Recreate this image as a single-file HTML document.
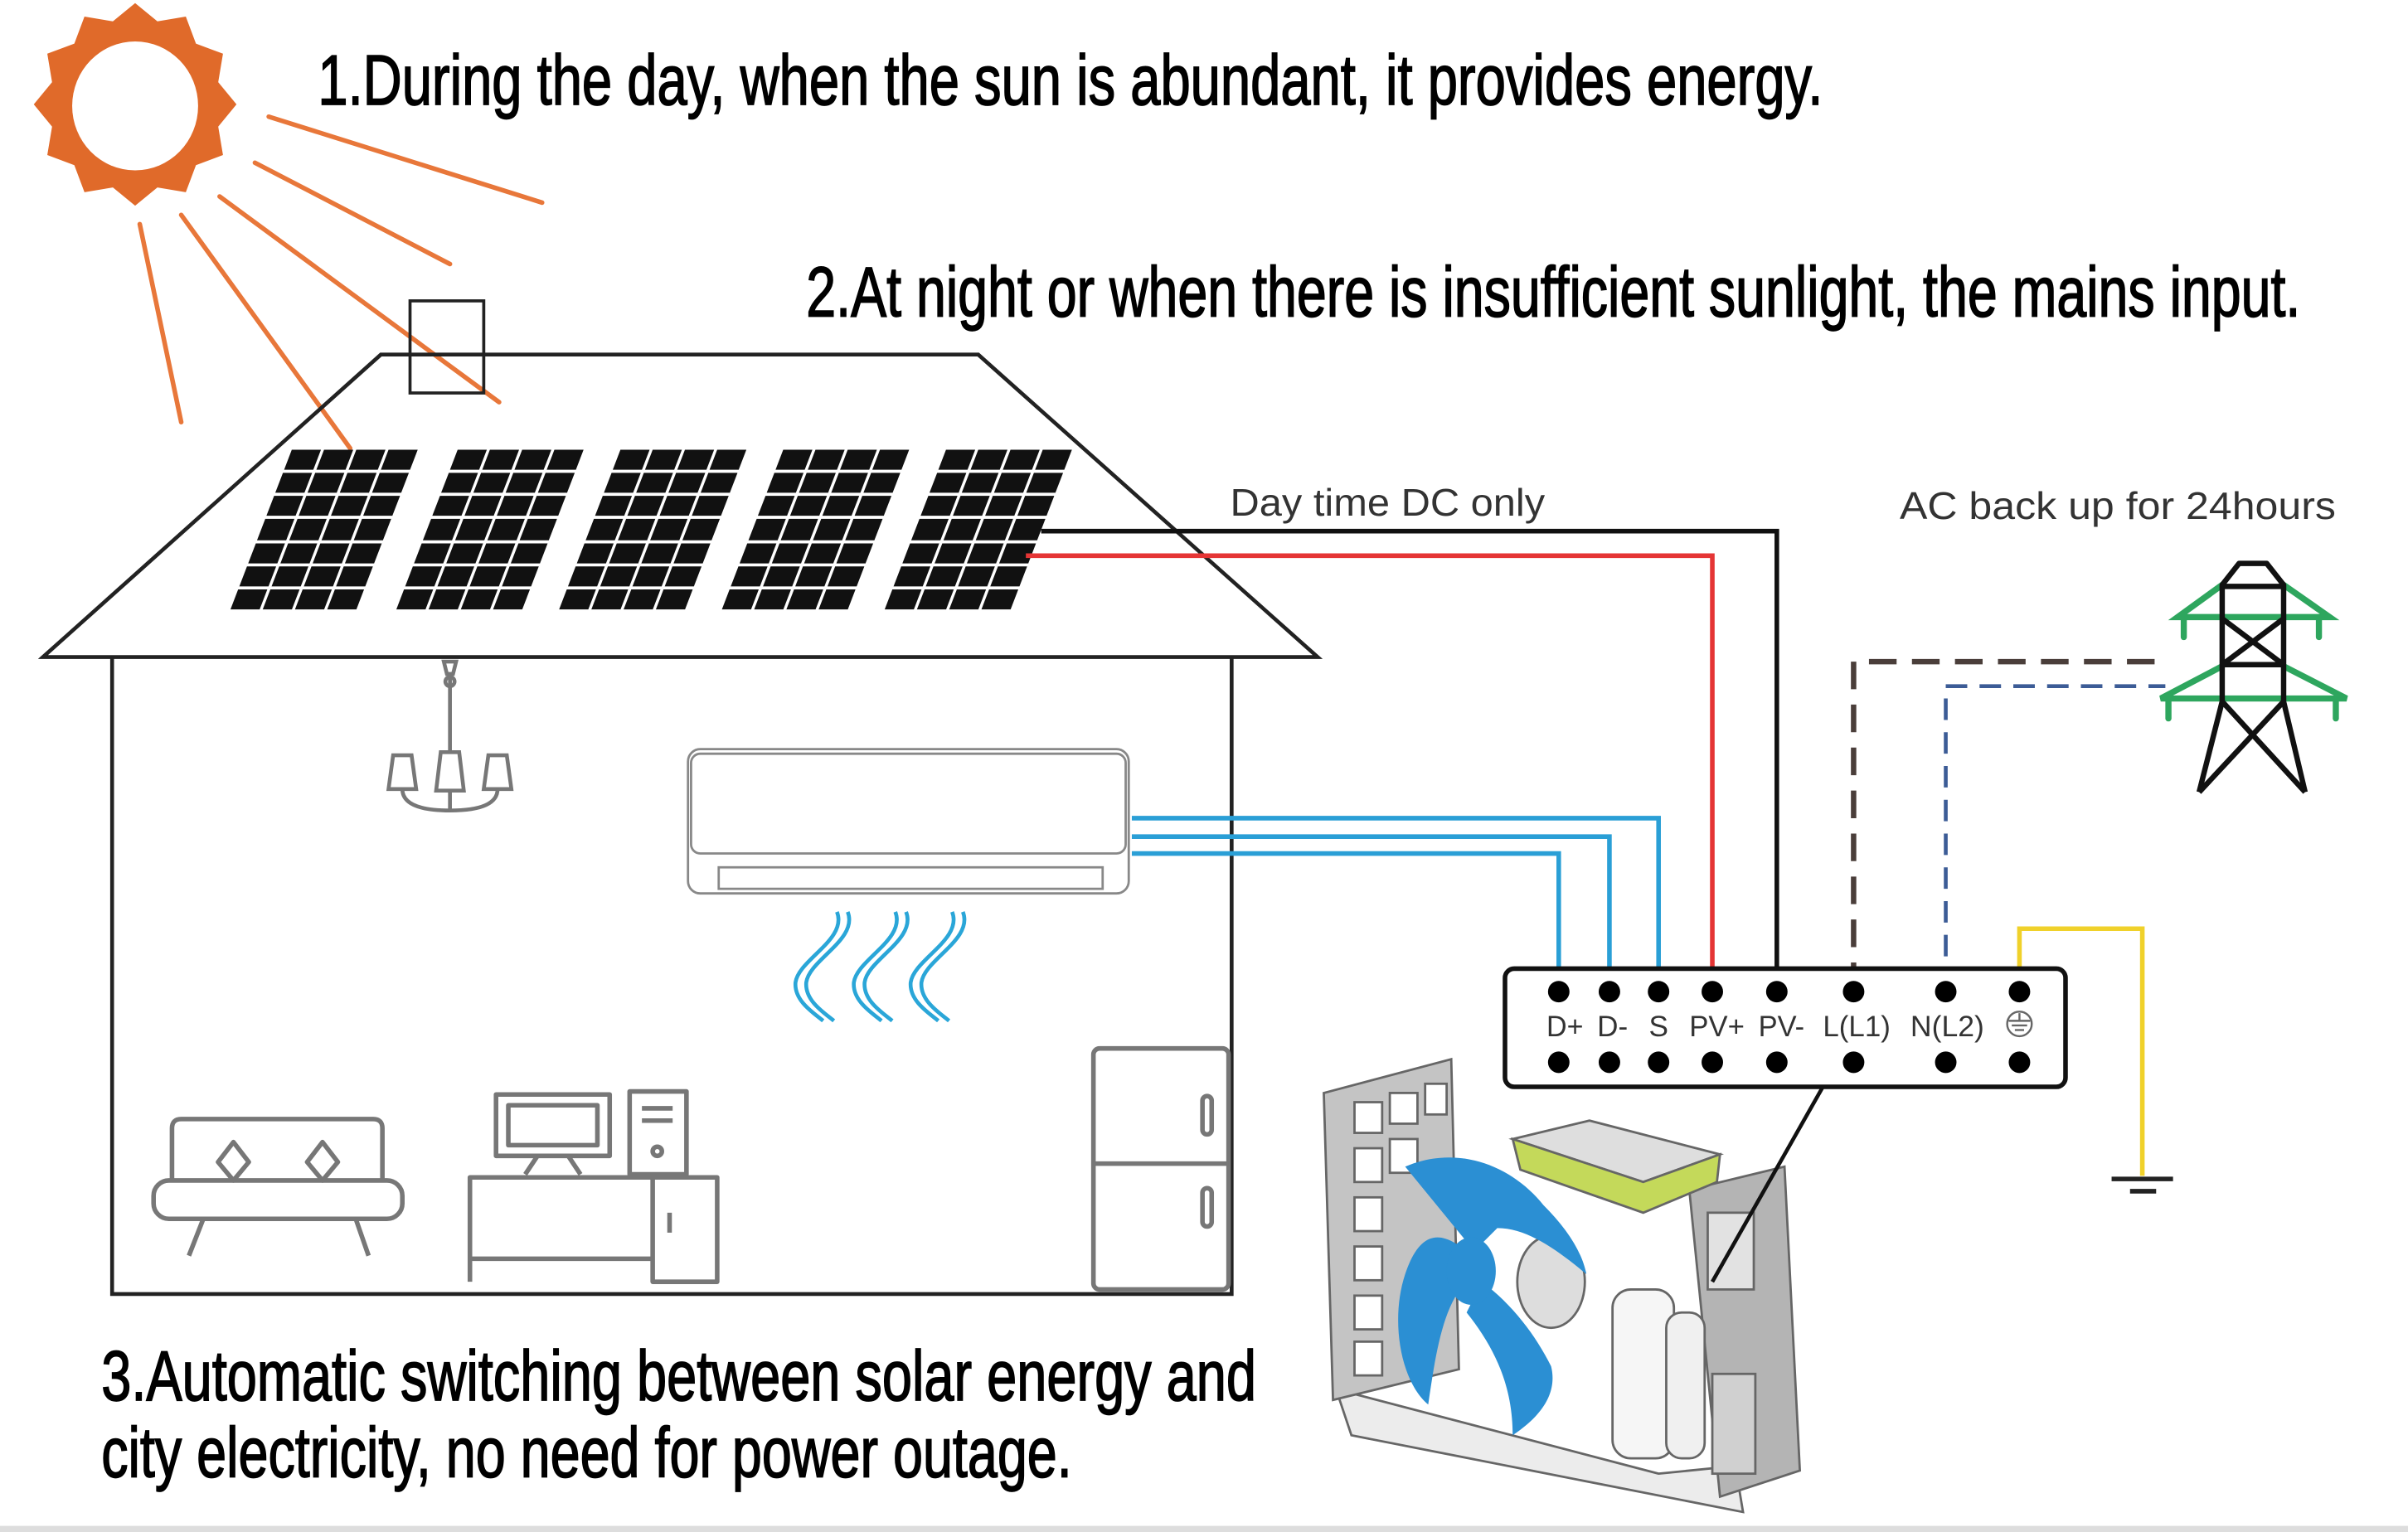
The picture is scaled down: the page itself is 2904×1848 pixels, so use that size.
<!DOCTYPE html>
<html><head><meta charset="utf-8"><style>
html,body{margin:0;padding:0;background:#fff;}
svg{display:block;}
text{font-family:"Liberation Sans",sans-serif;}
</style></head><body>
<svg width="2904" height="1848" viewBox="0 0 1568 998" preserveAspectRatio="none" xmlns="http://www.w3.org/2000/svg">
<rect width="1568" height="998" fill="#fff"/>
<!-- sun -->
<g transform="translate(88,68)">
<polygon fill="#e06a2a" points="0,-66 14.5,-54.1 33,-57.2 39.6,-39.6 57.2,-33 54.1,-14.5 66,0 54.1,14.5 57.2,33 39.6,39.6 33,57.2 14.5,54.1 0,66 -14.5,54.1 -33,57.2 -39.6,39.6 -57.2,33 -54.1,14.5 -66,0 -54.1,-14.5 -57.2,-33 -39.6,-39.6 -33,-57.2 -14.5,-54.1"/>
<ellipse cx="0" cy="1" rx="41" ry="42" fill="#fff"/>
</g>
<g stroke="#e8773a" stroke-width="3" stroke-linecap="round">
<line x1="175" y1="76" x2="353" y2="132"/>
<line x1="166" y1="106" x2="293" y2="172"/>
<line x1="143" y1="128" x2="325" y2="262"/>
<line x1="118" y1="140" x2="228" y2="292"/>
<line x1="91" y1="146" x2="118" y2="275"/>
</g>
<g stroke="#000" stroke-width="0.9">
<text x="207" y="68" font-size="46" textLength="980" lengthAdjust="spacingAndGlyphs">1.During the day, when the sun is abundant, it provides energy.</text>
<text x="525" y="206" font-size="46" textLength="973" lengthAdjust="spacingAndGlyphs">2.At night or when there is insufficient sunlight, the mains input.</text>
<text x="66" y="912" font-size="46" textLength="752" lengthAdjust="spacingAndGlyphs">3.Automatic switching between solar energy and</text>
<text x="66" y="962" font-size="46" textLength="632" lengthAdjust="spacingAndGlyphs">city electricity, no need for power outage.</text>
</g>

<!-- house -->
<rect x="267" y="196" width="48" height="60" fill="none" stroke="#222" stroke-width="2"/>
<polygon points="28,428 248,231 637,231 858,428" fill="none" stroke="#222" stroke-width="2.5"/>
<polyline points="73,428 73,843 802,843 802,428" fill="none" stroke="#222" stroke-width="2.5"/>

<!-- panels -->
<defs>
<g id="panel">
<g fill="#111">
<rect x="0" y="0" width="19" height="13"/><rect x="21" y="0" width="19" height="13"/><rect x="42" y="0" width="19" height="13"/><rect x="63" y="0" width="19" height="13"/>
<rect x="0" y="15" width="19" height="13"/><rect x="21" y="15" width="19" height="13"/><rect x="42" y="15" width="19" height="13"/><rect x="63" y="15" width="19" height="13"/>
<rect x="0" y="30" width="19" height="13"/><rect x="21" y="30" width="19" height="13"/><rect x="42" y="30" width="19" height="13"/><rect x="63" y="30" width="19" height="13"/>
<rect x="0" y="45" width="19" height="14"/><rect x="21" y="45" width="19" height="14"/><rect x="42" y="45" width="19" height="14"/><rect x="63" y="45" width="19" height="14"/>
<rect x="0" y="61" width="19" height="13"/><rect x="21" y="61" width="19" height="13"/><rect x="42" y="61" width="19" height="13"/><rect x="63" y="61" width="19" height="13"/>
<rect x="0" y="76" width="19" height="13"/><rect x="21" y="76" width="19" height="13"/><rect x="42" y="76" width="19" height="13"/><rect x="63" y="76" width="19" height="13"/>
<rect x="0" y="91" width="19" height="13"/><rect x="21" y="91" width="19" height="13"/><rect x="42" y="91" width="19" height="13"/><rect x="63" y="91" width="19" height="13"/>
</g></g>
</defs>
<use href="#panel" transform="translate(190,293) skewX(-21)"/>
<use href="#panel" transform="translate(298,293) skewX(-21)"/>
<use href="#panel" transform="translate(404,293) skewX(-21)"/>
<use href="#panel" transform="translate(510,293) skewX(-21)"/>
<use href="#panel" transform="translate(616,293) skewX(-21)"/>

<!-- DC wires -->
<polyline points="678,346 1157,346 1157,645" fill="none" stroke="#111" stroke-width="3"/>
<polyline points="668,362 1115,362 1115,645" fill="none" stroke="#e53535" stroke-width="3"/>
<text x="801" y="336" font-size="25" fill="#333" textLength="205" lengthAdjust="spacingAndGlyphs">Day time DC only</text>
<text x="1237" y="338" font-size="25" fill="#333" textLength="284" lengthAdjust="spacingAndGlyphs">AC back up for 24hours</text>

<!-- AC dashed -->
<polyline points="1207,645 1207,431 1410,431" fill="none" stroke="#4a3e3a" stroke-width="3.5" stroke-dasharray="18,10"/>
<polyline points="1267,645 1267,447 1410,447" fill="none" stroke="#3c5c96" stroke-width="2.5" stroke-dasharray="14,8"/>
<!-- ground -->
<polyline points="1315,645 1315,605 1395,605 1395,766" fill="none" stroke="#f0d12a" stroke-width="3"/>
<line x1="1375" y1="768" x2="1415" y2="768" stroke="#222" stroke-width="3"/>
<line x1="1387" y1="776" x2="1404" y2="776" stroke="#222" stroke-width="3"/>

<!-- tower -->
<g stroke="#2ea65e" stroke-width="4" fill="none" stroke-linecap="round">
<polyline points="1447,381 1418,402 1517,402 1487,381"/>
<line x1="1422" y1="402" x2="1422" y2="415"/><line x1="1510" y1="402" x2="1510" y2="415"/>
<polyline points="1447,434 1407,455 1528,455 1487,434"/>
<line x1="1412" y1="455" x2="1412" y2="468"/><line x1="1521" y1="455" x2="1521" y2="468"/>
</g>
<g stroke="#111" stroke-width="3.5" fill="none" stroke-linejoin="round">
<polyline points="1432,516 1447,457 1447,381 1458,367 1476,367 1487,381 1487,457 1501,516"/>
<line x1="1447" y1="382" x2="1487" y2="382"/>
<line x1="1447" y1="433" x2="1487" y2="433"/>
<line x1="1447" y1="403" x2="1487" y2="433"/><line x1="1487" y1="403" x2="1447" y2="433"/>
<line x1="1447" y1="457" x2="1501" y2="516"/><line x1="1487" y1="457" x2="1432" y2="516"/>
</g>

<!-- indoor AC -->
<g stroke="#888" stroke-width="1.5" fill="#fff">
<rect x="448" y="488" width="287" height="94" rx="8"/>
<rect x="450" y="491" width="283" height="65" rx="6"/>
<rect x="468" y="565" width="250" height="14" fill="none"/>
</g>
<g stroke="#2a9fd6" stroke-width="3" fill="none">
<polyline points="737,533 1080,533 1080,645"/>
<polyline points="737,545 1048,545 1048,645"/>
<polyline points="737,556 1015,556 1015,645"/>
</g>
<g stroke="#2aa6d8" stroke-width="2.5" fill="none">
<path d="M545,594 C552,612 520,625 518,640 C517,652 530,660 536,665"/>
<path d="M552,594 C559,612 527,625 525,640 C524,652 537,660 543,665"/>
<path d="M583,594 C590,612 558,625 556,640 C555,652 568,660 574,665"/>
<path d="M590,594 C597,612 565,625 563,640 C562,652 575,660 581,665"/>
<path d="M620,594 C627,612 595,625 593,640 C592,652 605,660 611,665"/>
<path d="M627,594 C634,612 602,625 600,640 C599,652 612,660 618,665"/>
</g>

<!-- chandelier -->
<g stroke="#777" stroke-width="2.5" fill="none">
<path d="M289,431 h8 l-2,8 h-4z"/>
<circle cx="293" cy="444" r="3"/>
<line x1="293" y1="439" x2="293" y2="490"/>
<path d="M256,492 h12 l3,22 h-18z"/>
<path d="M287,490 h12 l3,25 h-18z"/>
<path d="M318,492 h12 l3,22 h-18z"/>
<path d="M262,514 q0,14 31,14 q31,0 31,-14"/>
<line x1="293" y1="515" x2="293" y2="528"/>
</g>

<!-- furniture -->
<g stroke="#777" stroke-width="3" fill="none" stroke-linejoin="round">
<path d="M112,770 v-35 q0,-6 6,-6 h125 q6,0 6,6 v35"/>
<rect x="100" y="769" width="162" height="25" rx="10"/>
<line x1="132" y1="795" x2="123" y2="818"/><line x1="232" y1="795" x2="240" y2="818"/>
<path d="M152,744 l10,13 l-10,12 l-10,-12z"/>
<path d="M210,744 l10,13 l-10,12 l-10,-12z"/>
<rect x="323" y="713" width="74" height="40"/>
<rect x="331" y="720" width="58" height="26"/>
<path d="M350,753 l-8,12 M370,753 l8,12"/>
<rect x="410" y="711" width="37" height="54"/>
<line x1="418" y1="722" x2="438" y2="722"/><line x1="418" y1="730" x2="438" y2="730"/>
<circle cx="428" cy="750" r="3"/>
<polyline points="306,835 306,767 467,767 467,835 425,835 425,767"/>
<line x1="306" y1="820" x2="425" y2="820"/>
<line x1="436" y1="790" x2="436" y2="803"/>
<rect x="712" y="683" width="88" height="157" rx="4"/>
<line x1="712" y1="758" x2="800" y2="758"/>
<rect x="783" y="714" width="6" height="25" rx="3"/>
<rect x="783" y="774" width="6" height="25" rx="3"/>
</g>

<!-- outdoor unit (approx) -->
<g stroke="#666" stroke-width="1.5">
<polygon points="880,935 870,905 1080,960 1130,955 1135,985" fill="#ececec"/>
<polygon points="862,712 945,690 950,892 868,912" fill="#c4c4c4"/>
<g fill="#fff">
<rect x="882" y="718" width="18" height="20"/><rect x="905" y="712" width="18" height="20"/><rect x="928" y="706" width="14" height="20"/>
<rect x="882" y="748" width="18" height="22"/><rect x="905" y="742" width="18" height="22"/>
<rect x="882" y="780" width="18" height="22"/><rect x="882" y="812" width="18" height="22"/><rect x="882" y="844" width="18" height="22"/><rect x="882" y="874" width="18" height="22"/>
</g>
<polygon points="1100,775 1162,760 1172,958 1120,975" fill="#b4b4b4"/>
<rect x="1112" y="790" width="30" height="50" fill="#e2e2e2"/>
<rect x="1115" y="895" width="28" height="65" fill="#d0d0d0"/>
<polygon points="985,742 1035,730 1120,752 1070,770" fill="#dedede"/>
<polygon points="985,742 1070,770 1120,752 1118,770 1070,790 990,762" fill="#c4d95a"/>
<rect x="1050" y="840" width="40" height="110" rx="12" fill="#f6f6f6"/>
<rect x="1085" y="855" width="25" height="95" rx="10" fill="#f0f0f0"/>
<ellipse cx="1010" cy="835" rx="22" ry="30" fill="#ddd"/>
</g>
<g fill="#2b8fd3">
<path d="M915,760 C950,745 985,760 1005,785 C1020,800 1030,815 1033,830 C1015,815 995,800 975,800 L960,815 Z"/>
<path d="M960,820 C940,800 925,800 915,830 C905,860 912,900 930,915 C935,880 940,850 955,835 Z"/>
<path d="M965,835 C985,850 1000,870 1010,890 C1015,910 1000,925 985,935 C985,905 975,880 955,855 Z"/>
<ellipse cx="958" cy="828" rx="16" ry="22"/>
</g>
<line x1="1187" y1="708" x2="1115" y2="835" stroke="#111" stroke-width="2.5"/>

<!-- terminal box -->
<rect x="980" y="631" width="365" height="77" rx="6" fill="#fff" stroke="#111" stroke-width="3"/>
<g fill="#000">
<circle cx="1015" cy="646" r="7"/><circle cx="1048" cy="646" r="7"/><circle cx="1080" cy="646" r="7"/><circle cx="1115" cy="646" r="7"/><circle cx="1157" cy="646" r="7"/><circle cx="1207" cy="646" r="7"/><circle cx="1267" cy="646" r="7"/><circle cx="1315" cy="646" r="7"/>
<circle cx="1015" cy="692" r="7"/><circle cx="1048" cy="692" r="7"/><circle cx="1080" cy="692" r="7"/><circle cx="1115" cy="692" r="7"/><circle cx="1157" cy="692" r="7"/><circle cx="1207" cy="692" r="7"/><circle cx="1267" cy="692" r="7"/><circle cx="1315" cy="692" r="7"/>
</g>
<g font-size="19" fill="#333" text-anchor="middle">
<text x="1019" y="675" textLength="24" lengthAdjust="spacingAndGlyphs">D+</text><text x="1050" y="675" textLength="20" lengthAdjust="spacingAndGlyphs">D-</text><text x="1080" y="675">S</text><text x="1118" y="675" textLength="36" lengthAdjust="spacingAndGlyphs">PV+</text><text x="1160" y="675" textLength="30" lengthAdjust="spacingAndGlyphs">PV-</text><text x="1209" y="675" textLength="44" lengthAdjust="spacingAndGlyphs">L(L1)</text><text x="1268" y="675" textLength="48" lengthAdjust="spacingAndGlyphs">N(L2)</text>
</g>
<g stroke="#666" stroke-width="1.3" fill="none">
<circle cx="1315" cy="667" r="8"/>
<line x1="1315" y1="660" x2="1315" y2="665"/><line x1="1308" y1="665" x2="1322" y2="665"/><line x1="1310" y1="668" x2="1320" y2="668"/><line x1="1312" y1="671" x2="1318" y2="671"/>
</g>
<rect x="0" y="994" width="1568" height="4" fill="#ddd"/>
</svg>
</body></html>
